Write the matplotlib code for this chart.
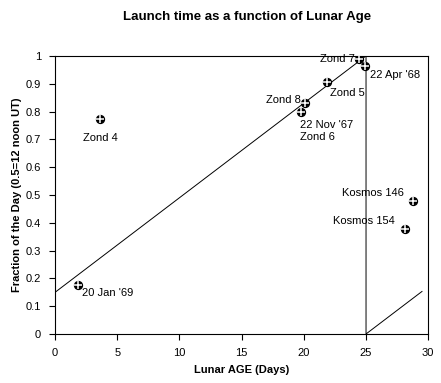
import numpy as np
import matplotlib
matplotlib.use("Agg")
import matplotlib.pyplot as plt

plt.rcParams['font.family'] = ['Liberation Sans', 'DejaVu Sans']

# launches: lunar age (days), fraction of day
names = ["Zond 4", "20 Jan '69", "Zond 7", "22 Apr '68", "Zond 5",
         "Zond 8", "22 Nov '67\nZond 6", "Kosmos 146", "Kosmos 154"]
age = [3.6, 1.8, 24.4, 24.9, 21.9, 20.1, 19.8, 28.8, 28.1]
frac = [0.773, 0.176, 0.99, 0.963, 0.905, 0.832, 0.800, 0.478, 0.377]
# label offsets in points and alignment
offs = [(0, -14, 'center'), (3, -6, 'left'), (-3, 0, 'right'), (4, -6, 'left'),
        (2, -8, 'left'), (-3, 2, 'right'), (-1, -14, 'left'),
        (-7, 6, 'right'), (-7, 6, 'right')]

# model line (wraps at lunar age 25)
line_x = [0, 25, 25, 29.5]
line_y = [0.15, 1.0, 0.0, 0.153]

fig = plt.figure(figsize=(4.41, 3.83), dpi=100)
ax = fig.add_axes([0.125, 0.128, 0.846, 0.726])

ax.plot(line_x, line_y, color='black', lw=0.7)
ax.scatter(age, frac, s=32, color='black', zorder=3)
ax.scatter(age, frac, s=32, marker='+', color='white', lw=1.1, zorder=4)

for n, x, y, (dx, dy, ha) in zip(names, age, frac, offs):
    ax.annotate(n, (x, y), xytext=(dx, dy), textcoords='offset points',
                ha=ha, va='center', fontsize=8)

ax.set_xlim(0, 30)
ax.set_ylim(0, 1)
ax.set_xticks(np.arange(0, 31, 5))
ax.set_yticks(np.arange(0, 1.01, 0.1))
ax.set_yticklabels(['0', '0.1', '0.2', '0.3', '0.4', '0.5', '0.6', '0.7', '0.8', '0.9', '1'])
ax.tick_params(direction='out', length=4, width=0.8, labelsize=8, pad=6)
for s in ax.spines.values():
    s.set_linewidth(0.8)

ax.set_xlabel('Lunar AGE (Days)', fontsize=8, fontweight='bold', labelpad=5)
ax.set_ylabel('Fraction of the Day (0.5=12 noon UT)', fontsize=8, fontweight='bold', labelpad=3)
fig.text(0.56, 0.955, 'Launch time as a function of Lunar Age', ha='center', va='center',
         fontsize=9.5, fontweight='bold')

fig.savefig('out.png', dpi=100)
